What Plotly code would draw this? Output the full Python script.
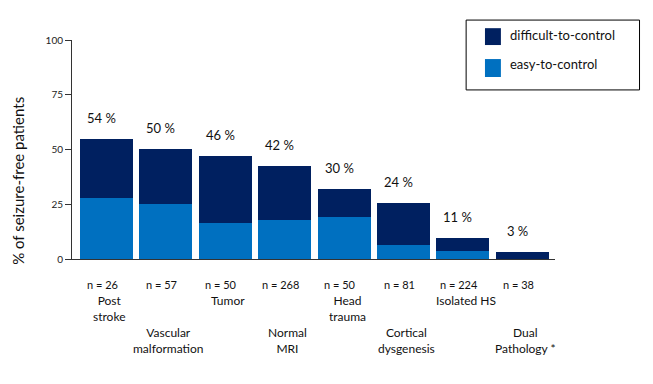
import plotly.graph_objects as go

categories = ["Post stroke", "Vascular malformation", "Tumor", "Normal MRI",
              "Head trauma", "Cortical dysgenesis", "Isolated HS", "Dual Pathology *"]
name_labels = ["Post<br>stroke", "Vascular<br>malformation", "Tumor", "Normal<br>MRI",
               "Head<br>trauma", "Cortical<br>dysgenesis", "Isolated HS", "Dual<br>Pathology *"]
n_labels = ["n = 26", "n = 57", "n = 50", "n = 268", "n = 50", "n = 81", "n = 224", "n = 38"]
pct_labels = ["54 %", "50 %", "46 %", "42 %", "30 %", "24 %", "11 %", "3 %"]
easy = [27.9, 25.1, 16.4, 17.8, 19.2, 6.4, 3.8, 0.0]
difficult = [26.9, 25.1, 30.6, 24.7, 12.8, 19.2, 5.8, 3.2]
y_ticks = [0, 25, 50, 75, 100]

DARK = "#002060"
BLUE = "#0070C0"
FONT = "Lato"

fig = go.Figure()
fig.add_trace(go.Bar(x=categories, y=easy, name="easy-to-control",
                     marker=dict(color=BLUE, line=dict(width=0)), width=0.89))
fig.add_trace(go.Bar(x=categories, y=difficult, name="difficult-to-control",
                     marker=dict(color=DARK, line=dict(width=0)), width=0.89))

ann = []
for i, c in enumerate(categories):
    total = easy[i] + difficult[i]
    ann.append(dict(x=c, y=total, xref="x", yref="y", text=pct_labels[i],
                    showarrow=False, yanchor="bottom", yshift=11, xshift=-5,
                    font=dict(size=13, color="#111111", family=FONT)))
    ann.append(dict(x=c, y=0, xref="x", yref="paper", text=n_labels[i],
                    showarrow=False, yanchor="middle", yshift=-25, xshift=-4,
                    font=dict(size=11, color="#111111", family=FONT)))
    lower = (i % 2 == 1)
    ann.append(dict(x=c, y=0, xref="x", yref="paper", text=name_labels[i],
                    showarrow=False, yanchor="top", yshift=-64 if lower else -32, xshift=3,
                    font=dict(size=12, color="#111111", family=FONT)))

# y-axis title
ann.append(dict(x=-0.135, y=0.356, xref="paper", yref="paper",
                text="% of seizure-free patients", textangle=-90, showarrow=False,
                font=dict(size=15, color="#111111", family=FONT)))

# custom legend box
shapes = [
    dict(type="rect", xref="paper", yref="paper", x0=0.816, x1=1.175, y0=0.772, y1=1.091,
         line=dict(color="black", width=1), fillcolor="white"),
    dict(type="rect", xref="paper", yref="paper", x0=0.855, x1=0.888, y0=0.977, y1=1.054,
         line=dict(width=0), fillcolor=DARK),
    dict(type="rect", xref="paper", yref="paper", x0=0.855, x1=0.888, y0=0.831, y1=0.913,
         line=dict(width=0), fillcolor=BLUE),
]
ann.append(dict(x=0.902, y=1.023, xref="paper", yref="paper", text="difficult-to-control",
                showarrow=False, xanchor="left", yanchor="middle",
                font=dict(size=13, color="#111111", family=FONT)))
ann.append(dict(x=0.902, y=0.891, xref="paper", yref="paper", text="easy-to-control",
                showarrow=False, xanchor="left", yanchor="middle",
                font=dict(size=13, color="#111111", family=FONT)))

fig.update_layout(
    barmode="stack",
    width=645, height=376,
    margin=dict(l=64, r=98, t=32, b=125),
    plot_bgcolor="white", paper_bgcolor="white",
    showlegend=False,
    annotations=ann,
    shapes=shapes,
    font=dict(family=FONT, color="#111111"),
    xaxis=dict(range=[-0.58, 7.55], showticklabels=False, ticks="",
               showline=True, linecolor="#333333", linewidth=1, showgrid=False,
               zeroline=False),
    yaxis=dict(range=[0, 100], tickvals=y_ticks, ticks="outside", ticklen=6,
               tickcolor="#333333", showline=True, linecolor="#333333", linewidth=1,
               showgrid=False, zeroline=False,
               tickfont=dict(size=10, color="#222222", family=FONT)),
)

fig.write_html("out.html")
